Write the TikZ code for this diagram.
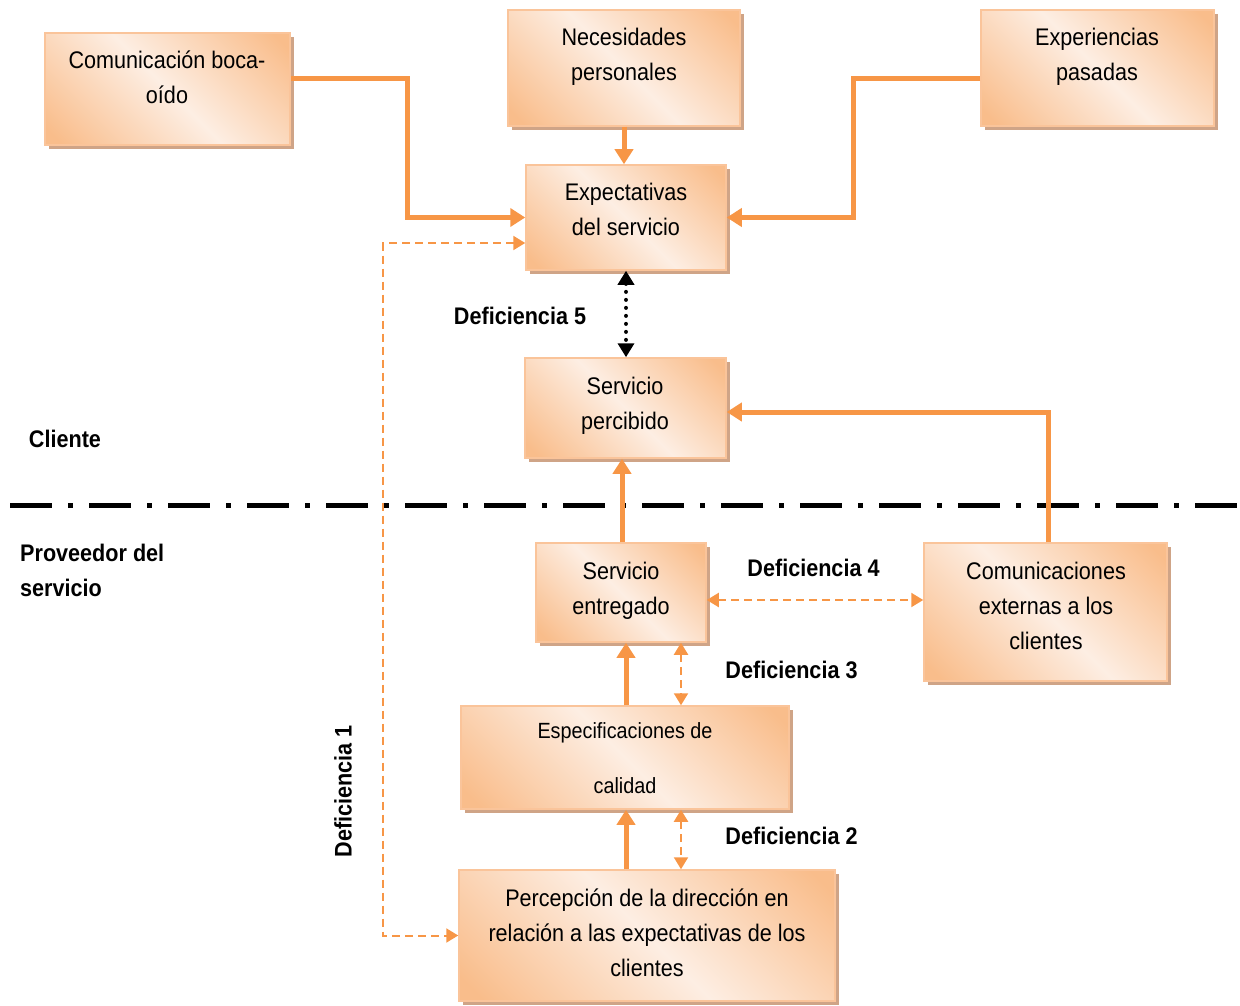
\documentclass[tikz,border=0pt]{standalone}
\usepackage{fontspec}
\setmainfont{Liberation Sans}[FakeStretch=0.9]
\usetikzlibrary{arrows.meta,calc,shadows}

\definecolor{lineor}{HTML}{F79646}
\definecolor{boxdk}{HTML}{F9BD8B}
\definecolor{boxlt}{HTML}{FDEEE3}
\definecolor{boxedge}{HTML}{FAC49A}
\definecolor{boxshadow}{HTML}{CFA487}

% diagonal orange-peach-orange fill of the boxes
\pgfdeclarehorizontalshading{peach}{100bp}{%
  color(0bp)=(boxdk); color(18bp)=(boxdk); color(50bp)=(boxlt);
  color(82bp)=(boxdk); color(100bp)=(boxdk)}

\tikzset{
  box/.style={rectangle, draw=boxedge, line width=1.5pt, shading=peach,
    shading angle=45, inner sep=0pt,
    drop shadow={shadow xshift=4pt, shadow yshift=-4pt, fill=boxshadow, opacity=1}},
  txt/.style={align=center, inner sep=0pt, font=\fontsize{24}{35}\selectfont},
  lbl/.style={inner sep=0pt, font=\fontsize{24}{35}\selectfont\bfseries},
  flow/.style={draw=lineor, line width=5pt, -{Triangle[length=15pt,width=18pt]}, color=lineor},
  gap/.style={draw=lineor, line width=2pt, dash pattern=on 8pt off 5pt,
    {Triangle[length=12pt,width=14pt]}-{Triangle[length=12pt,width=14pt]}, color=lineor},
  gapdot/.style={draw=black, line width=4pt, line cap=round, dash pattern=on 0pt off 8pt,
    {Triangle[length=14pt,width=16pt]}-{Triangle[length=14pt,width=16pt]}},
}

\begin{document}
\begin{tikzpicture}[x=1pt, y=-1pt]
\useasboundingbox (0,0) rectangle (1240,1006);

% boxes
\node[box, minimum width=245pt, minimum height=112pt] (boca)    at (167.5,89)  {};
\node[box, minimum width=232pt, minimum height=116pt] (neces)   at (624,68)    {};
\node[box, minimum width=233pt, minimum height=116pt] (exper)   at (1097.5,68) {};
\node[box, minimum width=200pt, minimum height=105pt] (expect)  at (626,217.5) {};
\node[box, minimum width=201pt, minimum height=100pt] (percib)  at (625.5,408) {};
\node[box, minimum width=170pt, minimum height=99pt]  (entreg)  at (621,592.5) {};
\node[box, minimum width=243pt, minimum height=138pt] (comext)  at (1045.5,612) {};
\node[box, minimum width=328pt, minimum height=103pt] (especif) at (625,757.5) {};
\node[box, minimum width=376pt, minimum height=131pt] (percep)  at (647,935.5) {};

% box texts
\node[txt] (bocaT)    at (167,77.5)  {Comunicación boca-\\oído};
\node[txt] (necesT)   at (624,57)    {Necesidades\\personales};
\node[txt] (experT)   at (1097,57)   {Experiencias\\pasadas};
\node[txt] (expectT)  at (626,209.5) {Expectativas\\del servicio};
\node[txt] (percibT)  at (625,405.5) {Servicio\\percibido};
\node[txt] (entregT)  at (621,590.5) {Servicio\\entregado};
\node[txt] (comextT)  at (1046,606)  {Comunicaciones\\externas a los\\clientes};
\node[txt, font=\fontsize{22}{55}\selectfont] (especifT) at (625,758.5) {Especificaciones de\\calidad};
\node[txt] (percepT)  at (647,933)   {Percepción de la dirección en\\relación a las expectativas de los\\clientes};

% side labels
\node[lbl] (cliente) at (65,439) {Cliente};
\node[lbl, align=left, anchor=west] (prov) at (20,570.5) {Proveedor del\\servicio};

% line between client and provider
\draw[line width=5pt, dash pattern=on 42pt off 16pt on 5pt off 16pt] (10,505) coordinate (sepA) -- (1240,505) coordinate (sepB);

% solid flows
\draw[flow] ($(boca.east)+(0,-10)$) -- ++(117,0) |- (expect.west);
\draw[flow] (neces.south) -- (neces.south |- expect.north);
\draw[flow] ($(exper.west)+(0,11)$) -- ++(-127,0) |- (expect.east);
\draw[flow] ($(entreg.north)+(1,0)$) coordinate (eN) -- (eN |- percib.south);
\draw[flow] ($(comext.north)+(2.5,0)$) |- ($(percib.east)+(0,4)$);
\draw[flow] ($(especif.north)+(1,0)$) coordinate (sN) -- (sN |- entreg.south);
\draw[flow] ($(percep.north)+(-21,0)$) coordinate (pN) -- (pN |- especif.south);

% gaps
\draw[gapdot] (expect.south) -- (expect.south |- percib.north);
\node[lbl] (d5) at (520,316) {Deficiencia 5};

\draw[gap] ($(entreg.east)+(0,7.5)$) coordinate (g4) -- (g4 -| comext.west);
\node[lbl] (d4) at (813.5,568) {Deficiencia 4};

\draw[gap] ($(entreg.south)+(60,0)$) coordinate (g3) -- (g3 |- especif.north);
\node[lbl] (d3) at (791.5,670) {Deficiencia 3};

\draw[gap] ($(especif.south)+(56,0)$) coordinate (g2) -- (g2 |- percep.north);
\node[lbl] (d2) at (791.5,836) {Deficiencia 2};

\draw[gap] ($(expect.west)+(0,25.5)$) -- ++(-142,0) |- (percep.west);
\node[lbl, rotate=90] (d1) at (343,791) {Deficiencia 1};

\end{tikzpicture}
\end{document}
